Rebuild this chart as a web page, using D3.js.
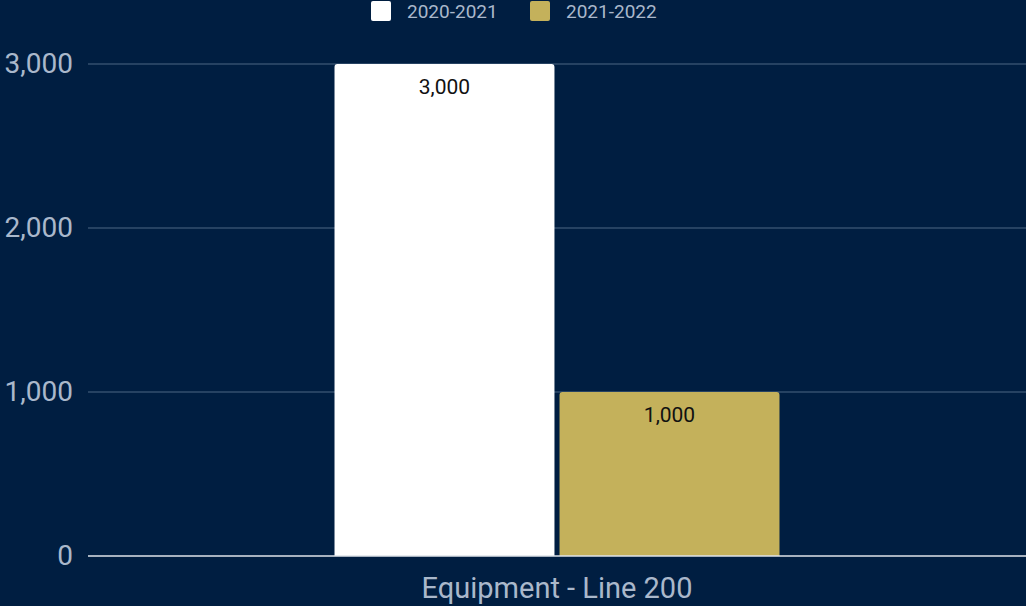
<!DOCTYPE html>
<html><head><meta charset="utf-8">
<script src="https://cdn.jsdelivr.net/npm/d3@7"></script>
<style>html,body{margin:0;padding:0;background:#001e41;overflow:hidden}svg{display:block}</style>
</head><body><svg id="c" width="1026" height="606"></svg>
<script>
const categories = ["Equipment - Line 200"];
const seriesNames = ["2020-2021", "2021-2022"];
const values2020 = [3000];
const values2021 = [1000];
const yTicks = [0, 1000, 2000, 3000];
const colors = ["#ffffff", "#c4b15b"];

const W = 1026, H = 606;
const m = {left: 88, right: 0, top: 64, bottom: 50};
const svg = d3.select("#c");
svg.append("rect").attr("width", W).attr("height", H).attr("fill", "#001e41");

const x0 = d3.scaleBand().domain(categories).range([m.left, W - m.right]).paddingInner(0).paddingOuter(0.554);
const x1 = d3.scaleBand().domain(seriesNames).range([0, x0.bandwidth()]).paddingInner(0.0225);
const y = d3.scaleLinear().domain([0, 3000]).range([H - m.bottom, m.top]);

// gridlines
svg.append("g").selectAll("line").data(yTicks.filter(d => d > 0)).join("line")
  .attr("x1", m.left).attr("x2", W).attr("y1", d => y(d)).attr("y2", d => y(d))
  .attr("stroke", "#4d6683").attr("stroke-width", 1.2);

// y axis labels
const yAxis = d3.axisLeft(y).tickValues(yTicks).tickFormat(d3.format(",")).tickSize(0).tickPadding(15);
const ga = svg.append("g").attr("transform", `translate(${m.left},0)`).call(yAxis);
ga.select(".domain").remove();
ga.selectAll("text").attr("fill", "#aab8cb").style("font-family", "Roboto").style("font-size", "28px");

const data = categories.map((c, i) => ({cat: c, vals: [values2020[i], values2021[i]]}));
const r = 3;
function topRounded(x, yT, w, h) {
  return `M${x},${yT + h}V${yT + r}Q${x},${yT} ${x + r},${yT}H${x + w - r}Q${x + w},${yT} ${x + w},${yT + r}V${yT + h}Z`;
}
const g = svg.append("g");
data.forEach(d => {
  d.vals.forEach((v, j) => {
    const bx = x0(d.cat) + x1(seriesNames[j]);
    const bw = x1.bandwidth();
    g.append("path").attr("d", topRounded(bx, y(v), bw, y(0) - y(v))).attr("fill", colors[j]);
    g.append("text").attr("x", bx + bw / 2).attr("y", y(v) + 30)
      .attr("text-anchor", "middle").attr("fill", "#111").style("font-family", "Roboto").style("font-size", "21px")
      .text(d3.format(",")(v));
  });
});

// baseline
svg.append("line").attr("x1", m.left).attr("x2", W).attr("y1", y(0)).attr("y2", y(0))
  .attr("stroke", "#dfe4ea").attr("stroke-width", 1.5);

// x axis labels
const xAxis = d3.axisBottom(x0).tickSize(0).tickPadding(0);
const gx = svg.append("g").attr("transform", `translate(0,${y(0)})`).call(xAxis);
gx.select(".domain").remove();
gx.selectAll("text").attr("fill", "#aab8cb").attr("dy", null).attr("y", 42)
  .style("font-family", "Roboto").style("font-size", "29px");

// legend
const legX = [371, 530];
const lg = svg.append("g");
seriesNames.forEach((s, i) => {
  lg.append("rect").attr("x", legX[i]).attr("y", 1).attr("width", 20).attr("height", 20).attr("rx", 2).attr("fill", colors[i]);
  lg.append("text").attr("x", legX[i] + 36).attr("y", 18).attr("fill", "#aab8cb")
    .style("font-family", "Roboto").style("font-size", "19px").text(s);
});
</script></body></html>
